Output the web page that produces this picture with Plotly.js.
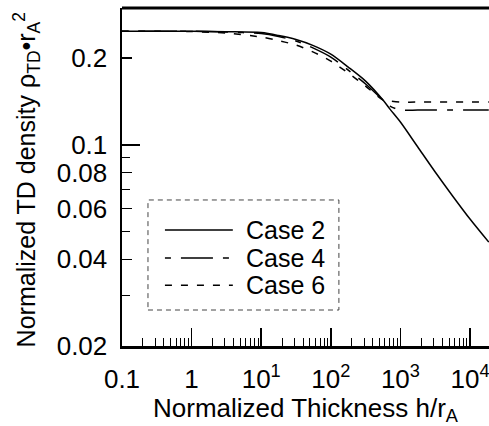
<!DOCTYPE html>
<html>
<head>
<meta charset="utf-8">
<script src="https://cdn.plot.ly/plotly-3.0.1.min.js"></script>
<style>html,body{margin:0;padding:0;overflow:hidden;background:#fff}</style>
</head>
<body>
<div id="chart" style="width:489px;height:426px"></div>
<script>
// ---- data ----
const thickness = [0.1, 0.316, 1, 3.16, 10, 17.8, 31.6, 56.2, 100, 178, 316, 562, 708, 1000, 1778, 3162, 5623, 10000, 18600];
const case2 = [0.248, 0.248, 0.248, 0.247, 0.2452, 0.2395, 0.232, 0.221, 0.2064, 0.1861, 0.1664, 0.143, 0.133, 0.1199, 0.0982, 0.0804, 0.0664, 0.0552, 0.0459];
const case4 = [0.248, 0.248, 0.248, 0.2462, 0.2433, 0.2376, 0.2292, 0.2166, 0.2016, 0.1817, 0.1625, 0.143, 0.1363, 0.132, 0.132, 0.132, 0.132, 0.132, 0.132];
const case6 = [0.248, 0.248, 0.2472, 0.2443, 0.2366, 0.230, 0.222, 0.2098, 0.1953, 0.1774, 0.1599, 0.143, 0.1418, 0.1407, 0.1407, 0.1407, 0.1407, 0.1407, 0.1407];
const seriesNames = ['Case 2', 'Case 4', 'Case 6'];

const xTickVals = [0.1, 1, 10, 100, 1000, 10000];
const xTickText = ['0.1', '1', '10<sup>1</sup>', '10<sup>2</sup>', '10<sup>3</sup>', '10<sup>4</sup>'];
const yTickVals = [0.02, 0.04, 0.06, 0.08, 0.1, 0.2];
const yTickText = ['0.02', '0.04', '0.06', '0.08', '0.1', '0.2'];
const yMinorVals = [0.03, 0.05, 0.07, 0.09];
const xTitle = 'Normalized Thickness h/r<sub>A</sub>';
const yTitle = 'Normalized TD density \u03c1<sub>TD</sub>\u2022r<sub>A</sub><sup>2</sup>';

// ---- styles ----
const FONT = 'Liberation Sans, Arial, Helvetica, sans-serif';
const FS = 26;
const dashes = ['solid', '6px,10px,32px,10px', '7px,9px'];
const allSeries = [case2, case4, case6];

const xMinorVals = [];
for (let d = -1; d <= 4; d++) {
  for (let k = 2; k <= 9; k++) xMinorVals.push(k * Math.pow(10, d));
}

const traces = allSeries.map((ys, i) => ({
  x: thickness, y: ys, name: seriesNames[i], type: 'scatter', mode: 'lines',
  line: {color: '#000', width: 1.5, dash: dashes[i], shape: 'spline', smoothing: 0.8},
  showlegend: false, hoverinfo: 'skip'
}));

// manual legend (dashed box with long line samples)
const legRows = [0.343, 0.260, 0.180];
const shapes = [
  {type: 'line', xref: 'paper', yref: 'paper', x0: 0, x1: 1, y0: 1, y1: 1, line: {color: '#000', width: 3}},
  {type: 'rect', xref: 'paper', yref: 'paper', x0: 0.0708, x1: 0.591, y0: 0.1065, y1: 0.432,
   line: {color: '#444', width: 1, dash: '5px,4px'}}
];
const annotations = [];
seriesNames.forEach((nm, i) => {
  shapes.push({type: 'line', xref: 'paper', yref: 'paper', x0: 0.117, x1: 0.302, y0: legRows[i], y1: legRows[i],
    line: {color: '#000', width: 1.5, dash: dashes[i]}});
  annotations.push({xref: 'paper', yref: 'paper', x: 0.335, y: legRows[i], xanchor: 'left', yanchor: 'middle',
    text: nm, showarrow: false, borderpad: 0, font: {family: FONT, size: 25, color: '#000'}});
});
// y-axis title (as rotated annotation so it can sit further left)
annotations.push({xref: 'paper', yref: 'paper', x: -(122 - 27) / 367, y: 0.49, xanchor: 'center', yanchor: 'middle',
  textangle: -90, text: yTitle, showarrow: false, borderpad: 0, font: {family: FONT, size: 25, color: '#000'}});

const layout = {
  width: 489, height: 426,
  margin: {l: 122, r: 0, t: 8, b: 80},
  paper_bgcolor: '#fff', plot_bgcolor: '#fff',
  font: {family: FONT, size: FS, color: '#000'},
  showlegend: false,
  xaxis: {
    type: 'log', range: [-1, 4.273], tickmode: 'array', tickvals: xTickVals, ticktext: xTickText,
    ticks: 'inside', ticklen: 18, tickwidth: 1.5, tickcolor: '#000', ticklabelstandoff: 8,
    ticklabeloverflow: 'allow',
    showline: true, linewidth: 2.5, linecolor: '#000', showgrid: false, zeroline: false,
    tickfont: {family: FONT, size: FS, color: '#000'},
    minor: {tickmode: 'array', tickvals: xMinorVals, ticks: 'inside', ticklen: 8, tickwidth: 1, tickcolor: '#000', showgrid: false},
    title: {text: xTitle, font: {family: FONT, size: FS, color: '#000'}, standoff: 6}
  },
  yaxis: {
    type: 'log', range: [Math.log10(0.02), -0.525], tickmode: 'array', tickvals: yTickVals, ticktext: yTickText,
    ticks: 'inside', ticklen: 10, tickwidth: 1.5, tickcolor: '#000', ticklabelstandoff: 7,
    showline: true, linewidth: 2.5, linecolor: '#000', showgrid: false, zeroline: false,
    tickfont: {family: FONT, size: FS, color: '#000'},
    minor: {tickmode: 'array', tickvals: yMinorVals, ticks: 'inside', ticklen: 8, tickwidth: 1, tickcolor: '#000', showgrid: false}
  },
  yaxis2: {
    type: 'log', overlaying: 'y', side: 'left', range: [Math.log10(0.02), -0.525],
    tickmode: 'array', tickvals: [0.1], showticklabels: false,
    ticks: 'inside', ticklen: 18, tickwidth: 1.5, tickcolor: '#000',
    showline: false, showgrid: false, zeroline: false
  },
  shapes: shapes,
  annotations: annotations
};

// an invisible point to activate yaxis2 ticks
traces.push({x: [thickness[0]], y: [case2[0]], yaxis: 'y2', type: 'scatter', mode: 'markers',
  marker: {opacity: 0}, showlegend: false, hoverinfo: 'skip'});

Plotly.newPlot('chart', traces, layout, {staticPlot: true, displayModeBar: false});
</script>
</body>
</html>
